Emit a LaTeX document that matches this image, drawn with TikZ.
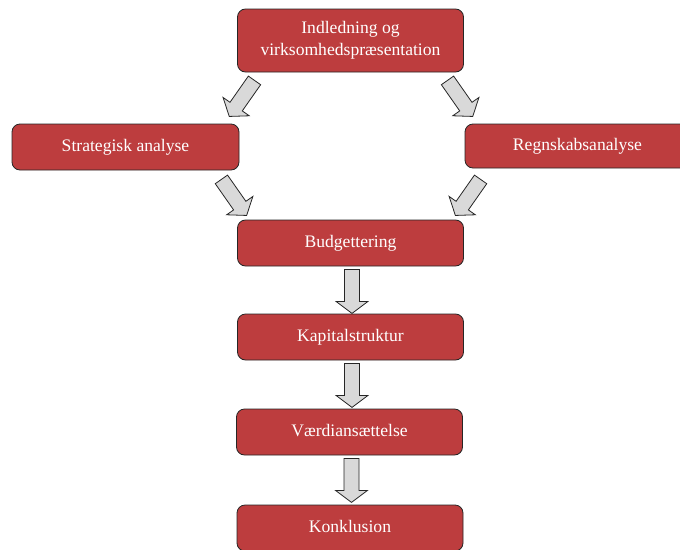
\documentclass[tikz,border=0pt]{standalone}
\usepackage{fontspec}
\setmainfont{Liberation Serif}
\usetikzlibrary{calc}
\definecolor{boxred}{RGB}{189,61,62}
\definecolor{arrowgray}{RGB}{217,217,217}
\newcommand{\uptext}[1]{\raisebox{3pt}{#1}}
\tikzset{
  box/.style={draw=black!85, line width=0.8pt, fill=boxred, rounded corners=8pt,
    text=white, font=\fontsize{17.6}{22}\selectfont, minimum width=226pt,
    minimum height=46pt, inner sep=0pt, align=center},
  barrow/.pic={
    \draw[draw=black!85, line width=0.8pt, fill=arrowgray, line join=miter]
      (-7.5pt,0pt) -- (-7.5pt,-32pt) -- (-16pt,-32pt) -- (0pt,-44pt)
      -- (16pt,-32pt) -- (7.5pt,-32pt) -- (7.5pt,0pt) -- cycle;
  }
}
\begin{document}
\begin{tikzpicture}[x=1pt,y=-1pt]
\useasboundingbox (0,0) rectangle (680,549);
\node[box, minimum height=63pt] (intro) at (350.5,40.5)
  {\raisebox{-3pt}{\begin{tabular}{@{}c@{}}Indledning og\\virksomhedspræsentation\end{tabular}}};
\node[box, minimum width=227pt] (strat) at (125.5,147) {\uptext{Strategisk analyse}};
\node[box, minimum width=225pt, minimum height=44pt] (regn) at (577.5,146) {\uptext{Regnskabsanalyse}};
\node[box] (bud) at (350.5,243) {\uptext{Budgettering}};
\node[box] (kap) at (350.5,337) {\uptext{Kapitalstruktur}};
\node[box] (vaerdi) at (349.5,432) {\uptext{Værdiansættelse}};
\node[box] (konk) at (350,528) {\uptext{Konklusion}};
% diagonal arrows
\pic[rotate=-35] at ($(intro.south)+(-96,8)$) {barrow};
\pic[rotate=35] at ($(intro.south)+(97,8)$) {barrow};
\pic[rotate=35] at ($(strat.south east)+(-18,9)$) {barrow};
\pic[rotate=-35] at ($(regn.south west)+(16,11)$) {barrow};
% straight arrows
\pic at ($(bud.south)+(1.5,3)$) {barrow};
\pic at ($(kap.south)+(1.5,3)$) {barrow};
\pic at ($(vaerdi.south)+(2,3)$) {barrow};
\end{tikzpicture}
\end{document}
